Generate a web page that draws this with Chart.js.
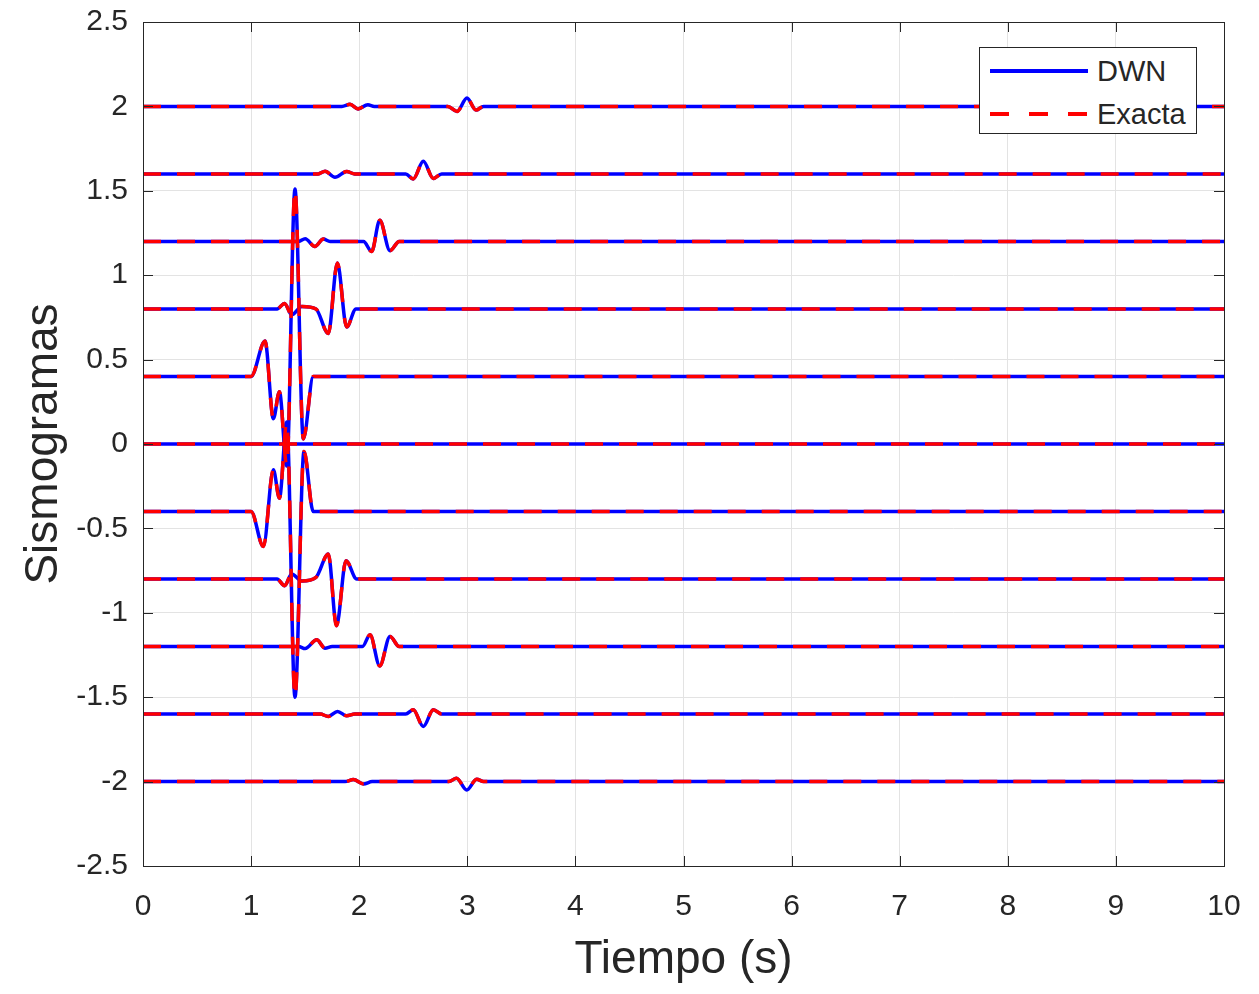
<!DOCTYPE html>
<html>
<head>
<meta charset="utf-8">
<script src="https://cdn.jsdelivr.net/npm/chart.js@4.4.1/dist/chart.umd.min.js"></script>
<style>
  body { margin: 0; background: #fff; }
  #wrap { position: relative; width: 1259px; height: 994px; }
  #leyenda {
    position: absolute; left: 979px; top: 47px; width: 216px; height: 85px;
    border: 1px solid #262626; background: #fff;
    font-family: "Liberation Sans", Arial, sans-serif; font-size: 29px; color: #262626;
  }
  .fila { position: absolute; left: 0; height: 40px; line-height: 40px; }
  .fila span { position: absolute; left: 117px; top: 1px; white-space: nowrap; }
  .muestra { position: absolute; left: 10px; top: 19px; width: 98px; height: 4px; }
</style>
</head>
<body>
<div id="wrap">
  <canvas id="sismo" width="1259" height="994"></canvas>
  <div id="leyenda">
    <div class="fila" style="top:2px"><div class="muestra" style="background:#0000ff"></div><span>DWN</span></div>
    <div class="fila" style="top:45px"><div class="muestra" style="background:repeating-linear-gradient(to right, #ff0000 0 19px, transparent 19px 39px)"></div><span>Exacta</span></div>
  </div>
</div>
<script>
// Posicion vertical de cada sismograma
var offsets = [2, 1.6, 1.2, 0.8, 0.4, 0, -0.4, -0.8, -1.2, -1.6, -2];

// Tiempos (s) y amplitudes (relativas a la linea base)
var t_p20 = [0, 1.84, 1.915, 1.99, 2.08, 2.14, 2.82, 2.905, 2.997, 3.08, 3.15, 10];
var a_p20 = [0, 0, 0.012, -0.015, 0.01, 0, 0, -0.03, 0.05, -0.022, 0, 0];

var t_p16 = [0, 1.62, 1.684, 1.776, 1.884, 1.96, 2.43, 2.5, 2.593, 2.686, 2.763, 10];
var a_p16 = [0, 0, 0.016, -0.02, 0.014, 0, 0, -0.03, 0.075, -0.027, 0, 0];

var t_p12 = [0, 1.44, 1.5, 1.59, 1.668, 1.73, 2.04, 2.115, 2.19, 2.285, 2.37, 10];
var a_p12 = [0, 0, 0.016, -0.03, 0.014, 0, 0, -0.06, 0.125, -0.055, 0, 0];

var t_p08 = [0, 1.24, 1.31, 1.375, 1.47, 1.6, 1.714, 1.798, 1.884, 1.97, 10];
var a_p08 = [0, 0, 0.033, -0.035, 0.015, 0, -0.145, 0.272, -0.107, 0, 0];

var t_p04 = [0, 1.0, 1.129, 1.206, 1.262, 1.33, 1.406, 1.483, 1.575, 10];
var a_p04 = [0, 0, 0.21, -0.25, -0.09, -0.53, 1.11, -0.37, 0, 0];

var t_000 = [0, 10];
var a_000 = [0, 0];

var t_m04 = [0, 1.0, 1.113, 1.206, 1.262, 1.33, 1.406, 1.489, 1.575, 10];
var a_m04 = [0, 0, -0.207, 0.247, 0.079, 0.53, -1.1, 0.355, 0, 0];

var t_m08 = [0, 1.24, 1.31, 1.375, 1.47, 1.6, 1.714, 1.79, 1.878, 1.977, 10];
var a_m08 = [0, 0, -0.04, 0.03, -0.012, 0.01, 0.148, -0.276, 0.108, 0, 0];

var t_m12 = [0, 1.44, 1.5, 1.607, 1.684, 1.75, 2.03, 2.1, 2.19, 2.285, 2.37, 10];
var a_m12 = [0, 0, -0.012, 0.04, -0.01, 0, 0, 0.07, -0.115, 0.06, 0, 0];

var t_m16 = [0, 1.64, 1.714, 1.8, 1.884, 1.96, 2.43, 2.5, 2.593, 2.686, 2.763, 10];
var a_m16 = [0, 0, -0.014, 0.016, -0.01, 0, 0, 0.026, -0.073, 0.026, 0, 0];

var t_m20 = [0, 1.87, 1.946, 2.04, 2.12, 2.83, 2.9, 2.995, 3.087, 3.15, 10];
var a_m20 = [0, 0, 0.012, -0.014, 0, 0, 0.02, -0.05, 0.014, 0, 0];

var xTicks = [0, 1, 2, 3, 4, 5, 6, 7, 8, 9, 10];
var yTicks = [-2.5, -2, -1.5, -1, -0.5, 0, 0.5, 1, 1.5, 2, 2.5];

var tiempos = [t_p20, t_p16, t_p12, t_p08, t_p04, t_000, t_m04, t_m08, t_m12, t_m16, t_m20];
var amplitudes = [a_p20, a_p16, a_p12, a_p08, a_p04, a_000, a_m04, a_m08, a_m12, a_m16, a_m20];

function traza(i) {
  return tiempos[i].map(function (t, k) {
    return { x: t, y: offsets[i] + amplitudes[i][k] };
  });
}

var datasets = [];
// DWN: linea azul continua (debajo)
offsets.forEach(function (o, i) {
  datasets.push({
    label: "DWN",
    data: traza(i),
    borderColor: "#0000ff",
    borderWidth: 3.5,
    pointRadius: 0,
    tension: 0.4,
    cubicInterpolationMode: "monotone",
    order: 2,
  });
});
// Exacta: linea roja discontinua (encima)
offsets.forEach(function (o, i) {
  datasets.push({
    label: "Exacta",
    data: traza(i),
    borderColor: "#ff0000",
    borderWidth: 3.5,
    borderDash: [18, 16],
    pointRadius: 0,
    tension: 0.4,
    cubicInterpolationMode: "monotone",
    order: 1,
  });
});

// Caja y marcas hacia dentro, estilo MATLAB
var cajaPlugin = {
  id: "caja",
  afterDatasetsDraw: function (chart) {
    var ctx = chart.ctx;
    var a = chart.chartArea;
    var sx = chart.scales.x;
    var sy = chart.scales.y;
    ctx.save();
    ctx.strokeStyle = "#262626";
    ctx.lineWidth = 1;
    ctx.beginPath();
    xTicks.forEach(function (v) {
      var px = Math.round(sx.getPixelForValue(v)) + 0.5;
      ctx.moveTo(px, a.bottom);
      ctx.lineTo(px, a.bottom - 10);
      ctx.moveTo(px, a.top);
      ctx.lineTo(px, a.top + 10);
    });
    yTicks.forEach(function (v) {
      var py = Math.round(sy.getPixelForValue(v)) + 0.5;
      ctx.moveTo(a.left, py);
      ctx.lineTo(a.left + 10, py);
      ctx.moveTo(a.right, py);
      ctx.lineTo(a.right - 10, py);
    });
    ctx.stroke();
    ctx.strokeRect(Math.round(a.left) + 0.5, Math.round(a.top) + 0.5,
      Math.round(a.right - a.left), Math.round(a.bottom - a.top));
    ctx.restore();
  },
};

var fuente = "'Liberation Sans', Arial, sans-serif";

new Chart(document.getElementById("sismo").getContext("2d"), {
  type: "line",
  data: { datasets: datasets },
  options: {
    responsive: false,
    animation: false,
    devicePixelRatio: 1,
    layout: { padding: { left: 0, right: 35, top: 22, bottom: 0 } },
    plugins: {
      legend: { display: false },
      tooltip: { enabled: false },
    },
    scales: {
      x: {
        type: "linear",
        min: 0,
        max: 10,
        afterBuildTicks: function (s) {
          s.ticks = xTicks.map(function (v) { return { value: v }; });
        },
        afterFit: function (s) {
          s.height = 128;
          s.paddingLeft = 0;
          s.paddingRight = 0;
        },
        ticks: {
          color: "#262626",
          font: { family: fuente, size: 30 },
          padding: 23,
          maxRotation: 0,
          callback: function (v) { return String(v); },
        },
        grid: { color: "#e3e3e3", drawTicks: false, tickLength: 0 },
        border: { display: false },
        title: {
          display: true,
          text: "Tiempo (s)",
          color: "#262626",
          font: { family: fuente, size: 46 },
          padding: { top: 0, bottom: 6 },
        },
      },
      y: {
        type: "linear",
        min: -2.5,
        max: 2.5,
        afterBuildTicks: function (s) {
          s.ticks = yTicks.map(function (v) { return { value: v }; });
        },
        afterFit: function (s) {
          s.width = 143;
          s.paddingTop = 0;
          s.paddingBottom = 0;
        },
        ticks: {
          color: "#262626",
          font: { family: fuente, size: 30 },
          padding: 15,
          callback: function (v) { return String(Math.round(v * 10) / 10); },
        },
        grid: { color: "#e3e3e3", drawTicks: false, tickLength: 0 },
        border: { display: false },
        title: {
          display: true,
          text: "Sismogramas",
          color: "#262626",
          font: { family: fuente, size: 46 },
          padding: { top: 17, bottom: 0 },
        },
      },
    },
  },
  plugins: [cajaPlugin],
});
</script>
</body>
</html>
